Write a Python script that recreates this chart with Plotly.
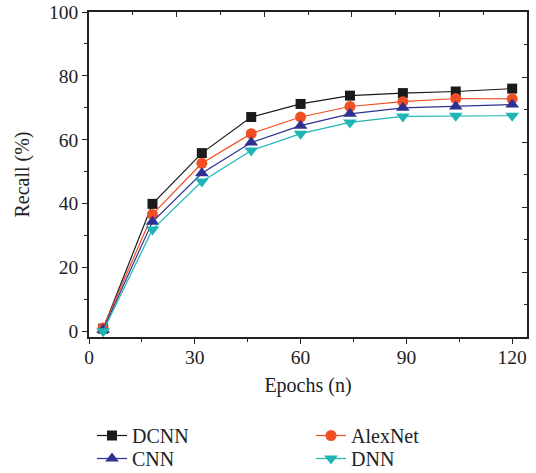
import plotly.graph_objects as go

# epochs and recall values
epochs = [4, 18, 32, 46, 60, 74, 89, 104, 120]
dcnn = [0.8, 39.9, 55.8, 67.1, 71.2, 73.8, 74.6, 75.1, 76.0]
alexnet = [1.0, 36.6, 52.6, 61.9, 67.1, 70.4, 71.9, 72.9, 72.8]
cnn = [0.5, 34.3, 49.5, 59.1, 64.4, 68.1, 70.0, 70.4, 71.0]
dnn = [0.0, 31.9, 46.9, 56.6, 61.9, 65.4, 67.3, 67.5, 67.5]

names = ["DCNN", "AlexNet", "CNN", "DNN"]
series = [dcnn, alexnet, cnn, dnn]
colors = ["#1a1a1a", "#f04e23", "#2e3192", "#1fb5b5"]
symbols = ["square", "circle", "triangle-up", "triangle-down"]
sizes = [10, 11, 12, 12]
# a separate legend box per entry, laid out as a 2x2 grid below the plot
legends = ["legend", "legend2", "legend3", "legend4"]

font = "Liberation Serif, Times New Roman, serif"

fig = go.Figure()
for name, ys, c, s, sz, lg in zip(names, series, colors, symbols, sizes, legends):
    fig.add_trace(
        go.Scatter(
            x=epochs,
            y=ys,
            mode="lines+markers",
            name=name,
            line=dict(color=c, width=1.2),
            marker=dict(color=c, symbol=s, size=sz),
            legend=lg,
        )
    )

# hidden trace to carry the top/right tick axes
fig.add_trace(
    go.Scatter(x=[0], y=[0], xaxis="x2", yaxis="y2", mode="markers",
               marker=dict(opacity=0), showlegend=False, hoverinfo="skip")
)

axis_common = dict(
    showline=True,
    linecolor="#222",
    linewidth=1.5,
    showgrid=False,
    zeroline=False,
    tickcolor="#222",
    tickwidth=1,
    automargin=False,
)

legend_common = dict(
    orientation="h",
    xref="container",
    yref="container",
    xanchor="left",
    yanchor="top",
    font=dict(size=20),
    bgcolor="rgba(0,0,0,0)",
)

col1, col2 = 92 / 536, 311 / 536
row1, row2 = 1 - 416 / 473, 1 - 439 / 473

fig.update_layout(
    width=536,
    height=473,
    margin=dict(l=89, r=9, t=12, b=136),
    paper_bgcolor="white",
    plot_bgcolor="white",
    font=dict(family=font, size=19, color="#222"),
    xaxis=dict(
        range=[0, 124.2],
        tickvals=[0, 30, 60, 90, 120],
        ticks="outside",
        ticklen=5,
        ticklabelstandoff=-3,
        minor=dict(dtick=15, tick0=0, ticks="outside", ticklen=3, tickcolor="#222"),
        title=dict(text="Epochs (n)", font=dict(size=20), standoff=11),
        tickfont=dict(size=19.5),
        **axis_common,
    ),
    yaxis=dict(
        range=[-1.8, 100],
        tickvals=[0, 20, 40, 60, 80, 100],
        ticks="outside",
        ticklen=5,
        minor=dict(dtick=10, tick0=0, ticks="outside", ticklen=3, tickcolor="#222"),
        title=dict(text="Recall (%)", font=dict(size=20), standoff=14),
        tickfont=dict(size=19.5),
        **axis_common,
    ),
    xaxis2=dict(
        overlaying="x",
        side="top",
        range=[0, 10],
        dtick=2,
        ticks="inside",
        ticklen=5,
        minor=dict(dtick=1, ticks="inside", ticklen=3, tickcolor="#222"),
        showticklabels=False,
        **axis_common,
    ),
    yaxis2=dict(
        overlaying="y",
        side="right",
        range=[0, 10],
        dtick=2,
        ticks="inside",
        ticklen=5,
        minor=dict(dtick=1, ticks="inside", ticklen=3, tickcolor="#222"),
        showticklabels=False,
        **axis_common,
    ),
    legend=dict(x=col1, y=row1, **legend_common),
    legend2=dict(x=col2, y=row1, **legend_common),
    legend3=dict(x=col1, y=row2, **legend_common),
    legend4=dict(x=col2, y=row2, **legend_common),
)

# drop the default 8px page margin so the figure sits at the window corner
fig.write_html(
    "out.html",
    config={"displayModeBar": False},
    post_script="document.body.style.margin = '0';",
)
